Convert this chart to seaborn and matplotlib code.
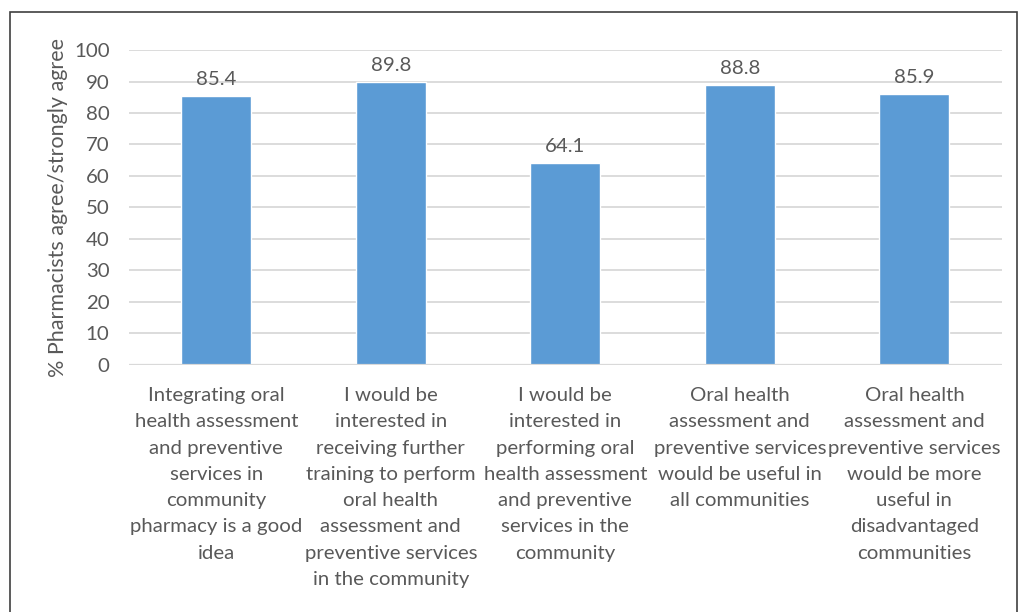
import matplotlib.pyplot as plt
import seaborn as sns
import pandas as pd
from matplotlib.patches import Rectangle

categories = [
    "Integrating oral\nhealth assessment\nand preventive\nservices in\ncommunity\npharmacy is a good\nidea",
    "I would be\ninterested in\nreceiving further\ntraining to perform\noral health\nassessment and\npreventive services\nin the community",
    "I would be\ninterested in\nperforming oral\nhealth assessment\nand preventive\nservices in the\ncommunity",
    "Oral health\nassessment and\npreventive services\nwould be useful in\nall communities",
    "Oral health\nassessment and\npreventive services\nwould be more\nuseful in\ndisadvantaged\ncommunities",
]
values = [85.4, 89.8, 64.1, 88.8, 85.9]
yticks = list(range(0, 101, 10))

sns.set_style("white")
plt.rcParams["font.family"] = ["Lato", "DejaVu Sans"]
text_col = "#595959"

df = pd.DataFrame({"statement": categories, "pct": values})

fig = plt.figure(figsize=(10.2, 6.12), dpi=100)
ax = fig.add_axes([0.1265, 0.4036, 0.8555, 0.5147])
sns.barplot(data=df, x="statement", y="pct", color="#5B9BD5", width=0.4,
            saturation=1, ax=ax, zorder=3)

ax.set_ylim(0, 100)
ax.set_yticks(yticks)
ax.set_xlim(-0.5, len(categories) - 0.5)
ax.grid(axis="y", color="#D9D9D9", linewidth=1.3, zorder=0)
for s in ax.spines.values():
    s.set_visible(False)
ax.axhline(0, color="#D9D9D9", linewidth=1.6, zorder=4)

ax.tick_params(axis="both", length=0, labelsize=14.7, colors=text_col)
ax.tick_params(axis="y", pad=14)
ax.tick_params(axis="x", pad=16)
for lbl in ax.get_xticklabels():
    lbl.set_linespacing(1.66)
ax.set_xlabel("")
ax.set_ylabel("% Pharmacists agree/strongly agree", fontsize=15.5, color=text_col, labelpad=4)

for c in ax.containers:
    ax.bar_label(c, fmt="%.1f", padding=6, fontsize=14.7, color=text_col)

# chart frame
fig.patches.append(Rectangle((10 / 1020, -0.01), 1007 / 1020, 1 - 12 / 612 + 0.01,
                             transform=fig.transFigure, fill=False,
                             edgecolor="#404040", linewidth=1.2))

fig.savefig("out.png", dpi=100)
